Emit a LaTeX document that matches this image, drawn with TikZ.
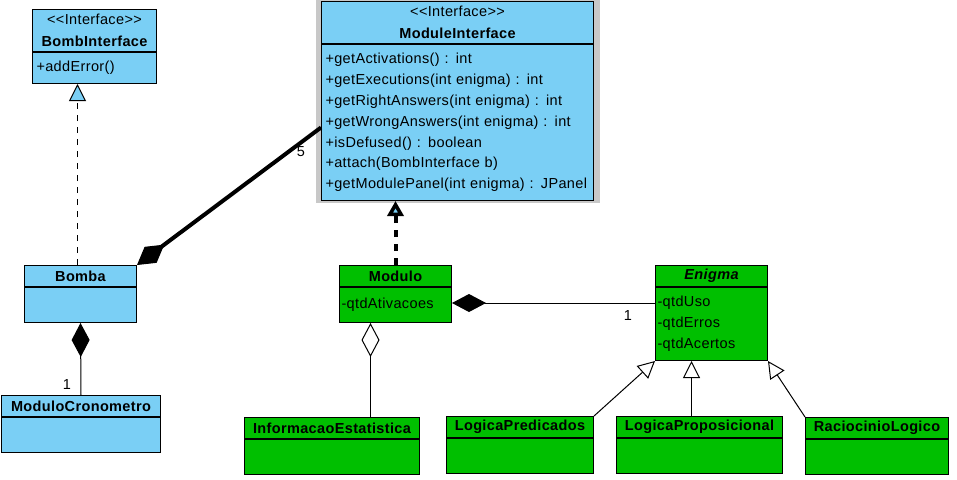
\documentclass[tikz,border=0pt]{standalone}
\usepackage{fontspec}
\setmainfont[LetterSpace=2.5]{Liberation Sans}
\usetikzlibrary{arrows.meta,positioning}

\definecolor{ifblue}{RGB}{122,207,245}
\definecolor{clgreen}{RGB}{0,191,0}
\definecolor{selgray}{RGB}{200,200,200}

\tikzset{
  head/.style={draw, line width=1pt, anchor=north west, inner sep=0pt, align=center, font=\fontsize{14.5}{22}\selectfont\bfseries},
  body/.style={draw, line width=1pt, anchor=north west, inner xsep=4pt, inner ysep=0pt, align=left},
  comp/.style={-{Diamond[length=34pt,width=18pt,line width=1pt]}, line width=1pt},
  aggr/.style={-{Diamond[open,length=34pt,width=18pt,line width=1pt,fill=white]}, line width=1pt},
  gen/.style={-{Triangle[open,length=17pt,width=17pt,line width=1pt,fill=white]}, line width=1pt},
  real/.style={-{Triangle[open,length=17pt,width=17pt,line width=1pt,fill=ifblue]}, line width=1pt, dash pattern=on 6pt off 6pt}
}

\begin{document}
\begin{tikzpicture}[x=1pt,y=-1pt,font=\fontsize{14.5}{20.8}\selectfont]
\useasboundingbox (0,0) rectangle (957,479);

% interfaces
\node[fill=selgray, anchor=north west, minimum width=284pt, minimum height=206pt, inner sep=0pt] (misel) at (316,-3) {};
\node[head, fill=ifblue, minimum width=272pt, minimum height=42pt] (mihead) at (321,1) {{\mdseries <{}<Interface>{}>}\\ModuleInterface};
\node[body, fill=ifblue, minimum width=272pt, minimum height=156pt, text width=264pt] (mibody) at (mihead.south west) {+getActivations() : int\\+getExecutions(int enigma) : int\\+getRightAnswers(int enigma) : int\\+getWrongAnswers(int enigma) : int\\+isDefused() : boolean\\+attach(BombInterface b)\\+getModulePanel(int enigma) : JPanel};

\node[head, fill=ifblue, minimum width=124pt, minimum height=42pt] (bihead) at (32,9) {{\mdseries <{}<Interface>{}>}\\BombInterface};
\node[body, fill=ifblue, minimum width=124pt, minimum height=31pt, text width=116pt] (bibody) at (bihead.south west) {+addError()};

% blue classes
\node[head, fill=ifblue, minimum width=112pt, minimum height=21pt] (bomba) at (24,265) {Bomba};
\node[body, fill=ifblue, minimum width=112pt, minimum height=35pt, text width=104pt] (bombabody) at (bomba.south west) {};
\node[head, fill=ifblue, minimum width=159pt, minimum height=21pt] (mc) at (1,395) {ModuloCronometro};
\node[body, fill=ifblue, minimum width=159pt, minimum height=35pt, text width=151pt] (mcbody) at (mc.south west) {};

% green classes
\node[head, fill=clgreen, minimum width=112pt, minimum height=21pt] (modhead) at (339,265) {Modulo};
\node[body, fill=clgreen, minimum width=112pt, minimum height=35pt, text width=108pt, inner xsep=2pt] (modbody) at (modhead.south west) {-qtdAtivacoes};
\node[head, fill=clgreen, minimum width=112pt, minimum height=21pt, font=\fontsize{14.5}{22}\selectfont\bfseries\itshape] (enhead) at (655,265) {Enigma};
\node[body, fill=clgreen, minimum width=112pt, minimum height=73pt, text width=108pt, inner xsep=2pt] (enbody) at (enhead.south west) {-qtdUso\\-qtdErros\\-qtdAcertos};
\node[head, fill=clgreen, minimum width=175pt, minimum height=21pt] (iehead) at (244,417) {InformacaoEstatistica};
\node[body, fill=clgreen, minimum width=175pt, minimum height=35pt, text width=167pt] (iebody) at (iehead.south west) {};
\node[head, fill=clgreen, minimum width=147pt, minimum height=21pt] (lphead) at (446,416) {LogicaPredicados};
\node[body, fill=clgreen, minimum width=147pt, minimum height=35pt, text width=139pt] (lpbody) at (lphead.south west) {};
\node[head, fill=clgreen, minimum width=166pt, minimum height=21pt] (lprhead) at (616,416) {LogicaProposicional};
\node[body, fill=clgreen, minimum width=166pt, minimum height=35pt, text width=158pt] (lprbody) at (lprhead.south west) {};
\node[head, fill=clgreen, minimum width=143pt, minimum height=21pt] (rlhead) at (805,417) {RaciocinioLogico};
\node[body, fill=clgreen, minimum width=143pt, minimum height=35pt, text width=135pt] (rlbody) at (rlhead.south west) {};

% connectors
\draw[real] ([xshift=-3pt]bomba.north) -- ([xshift=-3pt]bomba.north |- bibody.south);
\draw[-{Diamond[length=34pt,width=20pt,line width=1pt]}, line width=4pt] ([yshift=-5pt]mibody.west) -- (bomba.north east);
\node[inner sep=0pt] (n5) at (301,152) {5};
\draw[-{Triangle[open,length=15pt,width=16pt,line width=3.5pt,fill=ifblue]}, line width=4pt, dash pattern=on 7pt off 7pt] (modhead.north) -- (modhead.north |- mibody.south);
\draw[comp] (mc.north) -- (bombabody.south);
\node[inner sep=0pt] (n1a) at (67,385) {1};
\draw[aggr] ([xshift=-25pt]modbody.south |- iehead.north) -- ([xshift=-25pt]modbody.south);
\draw[comp] ([yshift=-16pt]enbody.north west) -- ([yshift=-16pt]enbody.north west -| modbody.east);
\node[inner sep=0pt] (n1b) at (628,316) {1};
\draw[gen] (lphead.north east) -- (enbody.south west);
\draw[gen] ([xshift=-8pt]lprhead.north) -- ([xshift=-8pt]lprhead.north |- enbody.south);
\draw[gen] (rlhead.north west) -- (enbody.south east);

\end{tikzpicture}
\end{document}
